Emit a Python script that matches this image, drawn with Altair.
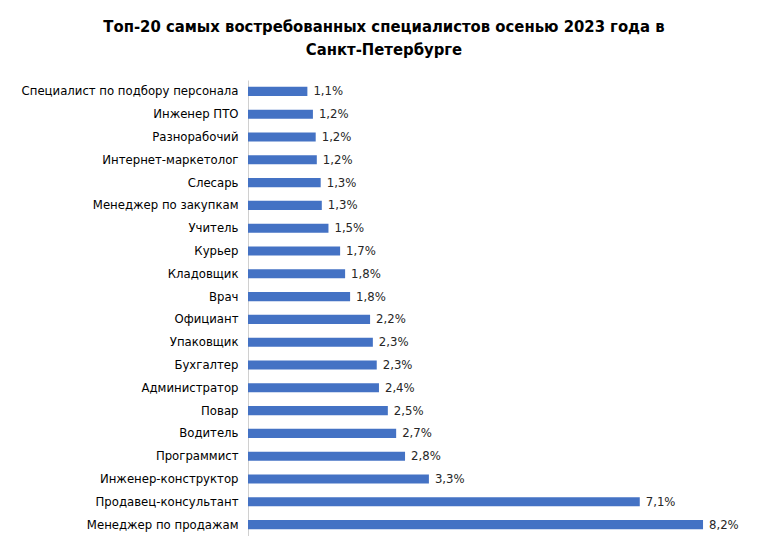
import altair as alt
import pandas as pd

categories = [
    "Специалист по подбору персонала", "Инженер ПТО", "Разнорабочий",
    "Интернет-маркетолог", "Слесарь", "Менеджер по закупкам", "Учитель",
    "Курьер", "Кладовщик", "Врач", "Официант", "Упаковщик", "Бухгалтер",
    "Администратор", "Повар", "Водитель", "Программист",
    "Инженер-конструктор", "Продавец-консультант", "Менеджер по продажам",
]
values = [1.07, 1.17, 1.22, 1.24, 1.31, 1.33, 1.45, 1.66, 1.75, 1.84,
          2.2, 2.25, 2.32, 2.36, 2.52, 2.67, 2.83, 3.26, 7.06, 8.2]
labels = ["1,1%", "1,2%", "1,2%", "1,2%", "1,3%", "1,3%", "1,5%", "1,7%",
          "1,8%", "1,8%", "2,2%", "2,3%", "2,3%", "2,4%", "2,5%", "2,7%",
          "2,8%", "3,3%", "7,1%", "8,2%"]

df = pd.DataFrame({"cat": categories, "val": values, "lbl": labels})

FONT = "Liberation Sans Narrow, DejaVu Sans Condensed, sans-serif"

y = alt.Y("cat:N", sort=categories, title=None,
          scale=alt.Scale(paddingInner=0.6, paddingOuter=0.3),
          axis=alt.Axis(ticks=False, labelPadding=10, labelFont=FONT,
                        labelFontSize=13, labelColor="#000000",
                        domainColor="#d0d0d0", labelLimit=300))
x = alt.X("val:Q", title=None, scale=alt.Scale(domain=[0, 8.65], nice=False),
          axis=None)

bars = alt.Chart(df).mark_bar(color="#4472C4").encode(x=x, y=y)
text = alt.Chart(df).mark_text(align="left", baseline="middle", dx=6,
                               font=FONT, fontSize=13, color="#262626").encode(
    x=x, y=y, text="lbl:N")

chart = (bars + text).properties(
    width=480, height=456,
    padding={"left": 240, "top": 72, "right": 32, "bottom": 0},
    autosize=alt.AutoSizeParams(type="none"),
    title=alt.TitleParams(
        ["Топ-20 самых востребованных специалистов осенью 2023 года в",
         "Санкт-Петербурге"],
        anchor="middle", font=FONT, fontSize=16.5, fontWeight="bold",
        color="#000000", dx=-104, offset=22, lineHeight=23),
).configure_view(stroke=None)

chart.save("out.html", embed_options={"renderer": "svg", "actions": False})
